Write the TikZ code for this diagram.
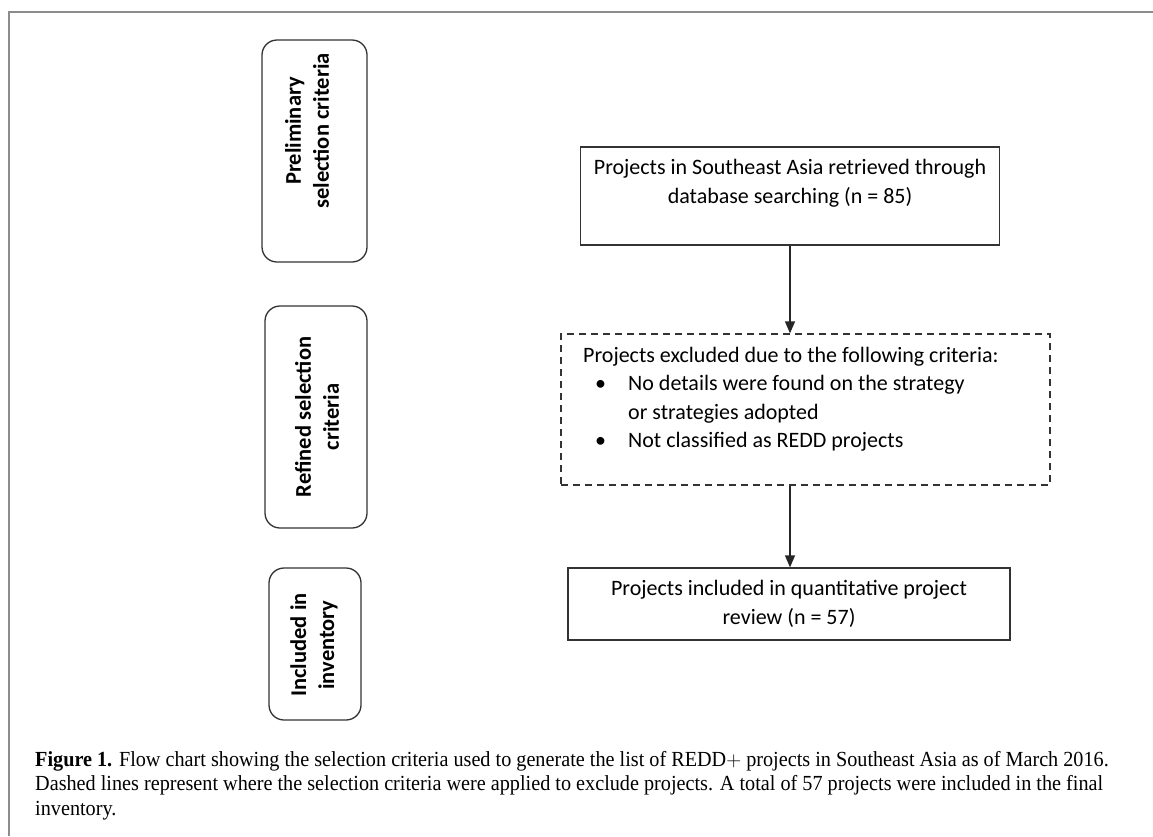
\documentclass[tikz,border=0pt]{standalone}
\usepackage{fontspec}
\setmainfont{Carlito}
\newfontfamily\capfont[FakeStretch=0.94]{Liberation Serif}
\usetikzlibrary{arrows.meta}
\begin{document}
\begin{tikzpicture}[x=1pt,y=-1pt,
  sidebox/.style={draw=black!80, line width=1.3pt, rounded corners=15pt, inner sep=0pt},
  sidetext/.style={rotate=90, align=center, inner sep=0pt, font=\fontsize{22.5}{28}\selectfont\bfseries},
  mainbox/.style={draw=black!80, line width=1.3pt, align=center, inner sep=0pt,
     font=\fontsize{22}{29.5}\selectfont},
  maintext/.style={align=center, inner sep=0pt, font=\fontsize{22}{29.5}\selectfont},
  flow/.style={draw=black!85, line width=1.3pt, -{Triangle[length=12pt,width=10pt]}}]
\useasboundingbox (0,0) rectangle (1153,836);
\fill[white] (0,0) rectangle (1153,836);
\draw[black!45, line width=2pt] (9,836) -- (9,12) -- (1153,12);
% side labels
\node[sidebox, minimum width=105pt, minimum height=222pt] (s1) at (314.5,151) {};
\node[sidetext] (t1) at (307,131) {Preliminary\\selection criteria};
\node[sidebox, minimum width=102pt, minimum height=222pt] (s2) at (316,417) {};
\node[sidetext] (t2) at (317,417) {Refined selection\\criteria};
\node[sidebox, minimum width=92pt, minimum height=152pt] (s3) at (315,644) {};
\node[sidetext] (t3) at (314,645) {Included in\\inventory};
% main boxes
\node[mainbox, minimum width=419pt, minimum height=98pt] (a) at (790,196) {};
\node[maintext] (at) at (790,183)
  {Projects in Southeast Asia retrieved through\\database searching (n = 85)};
\node[mainbox, dashed, dash pattern=on 7pt off 5pt, minimum width=489pt, minimum height=151pt] (d) at (805.5,409.5) {};
\node[anchor=west, inner sep=0pt, font=\fontsize{22}{28.5}\selectfont] (dt) at (583,399.5)
  {\begin{tabular}{@{}p{45pt}@{}l@{}}
   \multicolumn{2}{@{}l@{}}{Projects excluded due to the following criteria:}\\
   \hspace*{12pt}\textbullet & No details were found on the strategy\\
   & or strategies adopted\\
   \hspace*{12pt}\textbullet & Not classified as REDD projects
   \end{tabular}};
\node[mainbox, minimum width=442pt, minimum height=72pt] (c) at (789,604)
  {Projects included in quantitative project\\review (n = 57)};
\draw[flow] (a.south) -- (a.south |- d.north);
\draw[flow] (a.south |- d.south) -- (a.south |- c.north);
% caption
\node[anchor=north west, align=left, inner sep=0pt, font=\capfont\fontsize{21.5}{24.5}\selectfont] (cap) at (35,751)
  {\textbf{Figure 1.} Flow chart showing the selection criteria used to generate the list of REDD$+$ projects in Southeast Asia as of March 2016.\\
   Dashed lines represent where the selection criteria were applied to exclude projects. A total of 57 projects were included in the final\\
   inventory.};
\end{tikzpicture}
\end{document}
